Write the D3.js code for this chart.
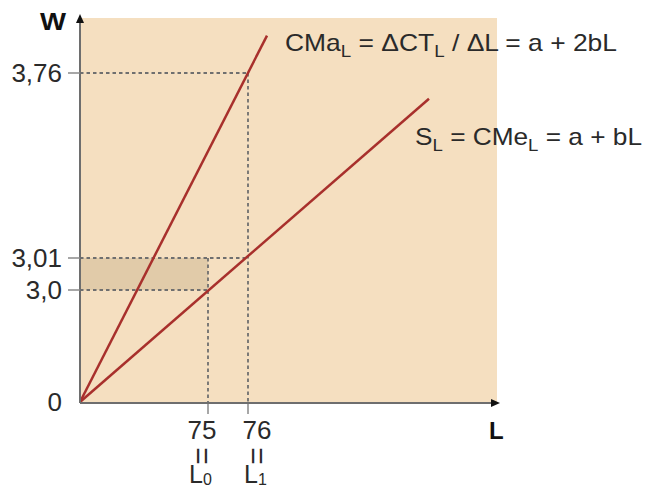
<!DOCTYPE html>
<html>
<head>
<meta charset="utf-8">
<script src="https://cdn.jsdelivr.net/npm/d3@7"></script>
<style>
  html, body { margin: 0; padding: 0; background: #fff; }
  svg { display: block; }
  text { font-family: "Liberation Sans", Arial, sans-serif; fill: #2a2a2a; }
</style>
</head>
<body>
<svg id="chart" width="645" height="490"></svg>
<script>
// Schematic diagram in drawing units: 1 unit on either axis is the same length.
// Labour (L) ticks: the printed value, the symbol under it, and where it sits.
const lTickValues = ["75", "76"];
const lTickNames  = ["0", "1"];          // subscripts of L
const lTickAt     = [3.2, 4.2];

// Wage (W) ticks.
const wTickLabels = ["0", "3,0", "3,01", "3,76"];
const wTickAt     = [0, 2.8, 3.6, 8.225];

// Curves, both starting at the origin.
const cmaLine = [[0, 0], [4.675, 9.16]];   // marginal cost of labour
const slLine  = [[0, 0], [8.725, 7.58]];   // labour supply = average cost

// Guide points where dashed lines meet the curves.
const guides = [
  { l: 4.2, w: 8.225 },   // L1 on CMa  -> 3,76
  { l: 4.2, w: 3.6 },     // L1 on S    -> 3,01
  { l: 3.2, w: 2.8 }      // L0 on S    -> 3,0
];

// Wage increase band paid to the first L0 workers.
const band = { l0: 3.2, wLow: 2.8, wHigh: 3.6 };

const xDomain = [0, 10.425];
const yDomain = [0, 9.6];

const svg = d3.select("#chart");
const x = d3.scaleLinear().domain(xDomain).range([80, 497]);
const y = d3.scaleLinear().domain(yDomain).range([402, 18]);

const panel = "#f5dfc0";
const bandFill = "#e1cba9";
const curveColor = "#a8302c";
const guideColor = "#6f6f6f";
const axisColor = "#6e6e6e";

// Background panel
svg.append("rect")
  .attr("x", x(0)).attr("y", y(yDomain[1]))
  .attr("width", x(xDomain[1]) - x(0))
  .attr("height", y(0) - y(yDomain[1]))
  .attr("fill", panel);

// Shaded band between 3,0 and 3,01 up to L0
svg.append("rect")
  .attr("x", x(0)).attr("y", y(band.wHigh))
  .attr("width", x(band.l0) - x(0))
  .attr("height", y(band.wLow) - y(band.wHigh))
  .attr("fill", bandFill);

// Dashed guides
const g = svg.append("g")
  .attr("stroke", guideColor).attr("stroke-width", 1.8)
  .attr("stroke-dasharray", "3.5,3").attr("fill", "none");
guides.forEach(p => {
  g.append("line")
    .attr("x1", x(0)).attr("x2", x(p.l))
    .attr("y1", y(p.w)).attr("y2", y(p.w));
});
// vertical at L1 from the top guide down to the axis
g.append("line")
  .attr("x1", x(lTickAt[1])).attr("x2", x(lTickAt[1]))
  .attr("y1", y(wTickAt[3])).attr("y2", y(0));
// vertical at L0 from the top of the band down to the axis
g.append("line")
  .attr("x1", x(lTickAt[0])).attr("x2", x(lTickAt[0]))
  .attr("y1", y(band.wHigh)).attr("y2", y(0));

// Curves
const line = d3.line().x(d => x(d[0])).y(d => y(d[1]));
[cmaLine, slLine].forEach(pts => {
  svg.append("path")
    .attr("d", line(pts))
    .attr("fill", "none")
    .attr("stroke", curveColor)
    .attr("stroke-width", 2.5);
});

// Axes
svg.append("line")
  .attr("x1", x(0)).attr("x2", x(0))
  .attr("y1", y(0) + 1).attr("y2", y(yDomain[1]) - 2)
  .attr("stroke", axisColor).attr("stroke-width", 2);
svg.append("line")
  .attr("x1", x(0)).attr("x2", x(xDomain[1]) - 4)
  .attr("y1", y(0) + 1).attr("y2", y(0) + 1)
  .attr("stroke", axisColor).attr("stroke-width", 2);

// Arrow heads
const yTop = y(yDomain[1]) - 4;
svg.append("path")
  .attr("d", `M${x(0)},${yTop} L${x(0) - 4},${yTop + 9} L${x(0) + 4},${yTop + 9} Z`)
  .attr("fill", "#111");
const xEnd = x(xDomain[1]) + 3;
svg.append("path")
  .attr("d", `M${xEnd},${y(0) + 1} L${xEnd - 9},${y(0) - 3} L${xEnd - 9},${y(0) + 5} Z`)
  .attr("fill", "#111");

// W ticks and labels
wTickAt.forEach((v, i) => {
  if (v !== 0) {
    svg.append("line")
      .attr("x1", x(0) - 12).attr("x2", x(0))
      .attr("y1", y(v)).attr("y2", y(v))
      .attr("stroke", "#8a8a8a").attr("stroke-width", 1.5);
  }
  svg.append("text")
    .attr("x", x(0) - 18)
    .attr("y", y(v) + 9)
    .attr("text-anchor", "end")
    .attr("font-size", 26)
    .text(wTickLabels[i]);
});

// L ticks, labels, "=" marks and symbols
const labelNudge = [-6, 9];
lTickAt.forEach((v, i) => {
  const cx = x(v) + labelNudge[i];
  svg.append("line")
    .attr("x1", x(v)).attr("x2", x(v))
    .attr("y1", y(0) + 2).attr("y2", y(0) + 12)
    .attr("stroke", "#8a8a8a").attr("stroke-width", 1.5);
  svg.append("text")
    .attr("x", cx).attr("y", 439)
    .attr("text-anchor", "middle")
    .attr("font-size", 26)
    .text(lTickValues[i]);
  svg.append("text")
    .attr("transform", `translate(${cx},456) rotate(90)`)
    .attr("text-anchor", "middle")
    .attr("dy", "0.35em")
    .attr("font-size", 30)
    .text("=");
  const t = svg.append("text")
    .attr("x", cx - 13).attr("y", 483)
    .attr("font-size", 25);
  t.append("tspan").text("L");
  t.append("tspan").attr("font-size", 16).attr("dy", 2).text(lTickNames[i]);
});

// Axis titles
svg.append("text")
  .attr("x", 53).attr("y", 30)
  .attr("text-anchor", "middle")
  .attr("font-size", 24).attr("font-weight", "bold")
  .attr("textLength", 26).attr("lengthAdjust", "spacingAndGlyphs")
  .style("fill", "#111")
  .text("W");
svg.append("text")
  .attr("x", 489).attr("y", 439)
  .attr("font-size", 24).attr("font-weight", "bold")
  .style("fill", "#111")
  .text("L");

// Curve equations, with subscripts
function equation(parts, px, py, width) {
  const t = svg.append("text")
    .attr("x", px).attr("y", py)
    .attr("font-size", 24)
    .attr("textLength", width)
    .attr("lengthAdjust", "spacingAndGlyphs");
  let shift = 0;
  parts.forEach(([s, sub]) => {
    const dy = (sub ? 6 : 0) - shift;
    shift = sub ? 6 : 0;
    t.append("tspan")
      .attr("font-size", sub ? 17 : null)
      .attr("dy", dy)
      .text(s);
  });
}
equation([["CMa"], ["L", true], [" = \u0394CT"], ["L", true], [" / \u0394L = a + 2bL"]], 285, 51, 332);
equation([["S"], ["L", true], [" = CMe"], ["L", true], [" = a + bL"]], 415, 145, 227);
</script>
</body>
</html>
